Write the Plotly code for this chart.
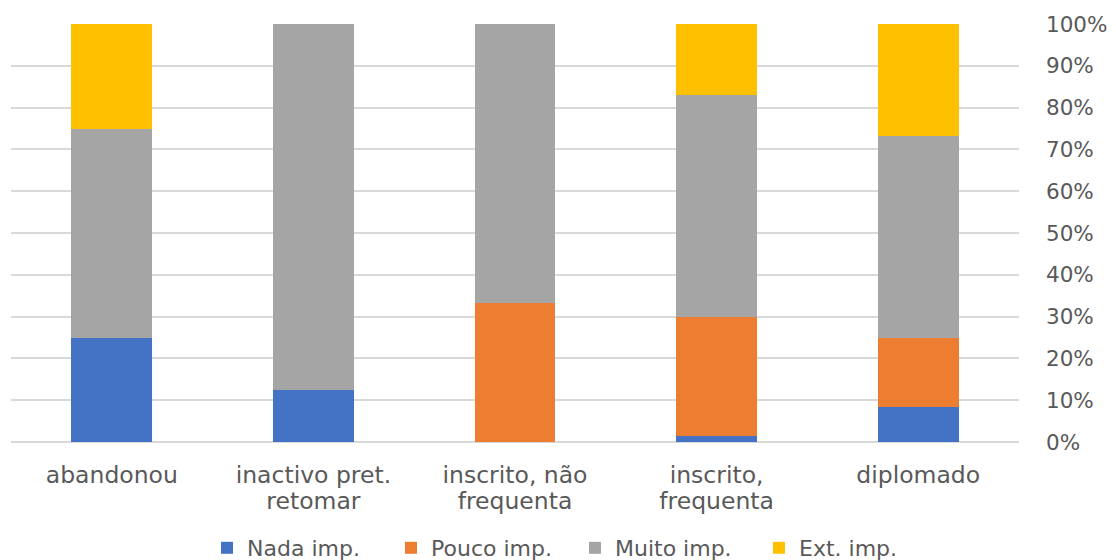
import plotly.graph_objects as go

categories = ["abandonou", "inactivo pret.\nretomar", "inscrito, não\nfrequenta",
              "inscrito,\nfrequenta", "diplomado"]
series_names = ["Nada imp.", "Pouco imp.", "Muito imp.", "Ext. imp."]
nada = [25.0, 12.5, 0.0, 1.4, 8.4]
pouco = [0.0, 0.0, 33.3, 28.6, 16.4]
muito = [50.0, 87.5, 66.7, 52.9, 48.5]
ext = [25.0, 0.0, 0.0, 17.1, 26.7]
colors = ["#4472C4", "#ED7D31", "#A5A5A5", "#FFC000"]
tick_vals = [0, 10, 20, 30, 40, 50, 60, 70, 80, 90, 100]
tick_text = [f"{v}%" for v in tick_vals]

pos = list(range(len(categories)))
line1 = [c.split("\n")[0] for c in categories]
line2 = [c.split("\n")[1] if "\n" in c else "" for c in categories]

fig = go.Figure()
for name, vals, c in zip(series_names, [nada, pouco, muito, ext], colors):
    fig.add_trace(go.Bar(x=pos, y=vals, name=name, marker=dict(color=c, line=dict(width=0))))
# invisible carrier trace so the second-line label axis is drawn
fig.add_trace(go.Scatter(x=pos, y=nada, xaxis="x2", yaxis="y", mode="none",
                         showlegend=False, hoverinfo="skip"))

font_family = "DejaVu Sans, sans-serif"
grey = "#595959"
xr = [-0.5, len(categories) - 0.5]
fig.update_layout(
    barmode="stack",
    bargap=0.6,
    width=1116, height=560,
    margin=dict(l=11, r=97, t=24, b=118),
    paper_bgcolor="white", plot_bgcolor="white",
    font=dict(family=font_family, size=21, color=grey),
    legend=dict(orientation="h", xref="container", yref="container",
                x=207 / 1116, xanchor="left", y=(560 - 548) / 560, yanchor="middle",
                font=dict(size=22, color=grey), traceorder="normal",
                entrywidth=139, entrywidthmode="pixels", tracegroupgap=0),
    showlegend=True,
    xaxis=dict(range=xr, tickmode="array", tickvals=pos, ticktext=line1,
               showgrid=False, showline=False, ticks="", automargin=False,
               ticklabelstandoff=16, tickfont=dict(size=23.5, color=grey)),
    xaxis2=dict(range=xr, tickmode="array", tickvals=pos, ticktext=line2,
                overlaying="x", side="bottom", anchor="y",
                showgrid=False, showline=False, zeroline=False, ticks="", automargin=False,
                ticklabelstandoff=42, tickfont=dict(size=23.5, color=grey)),
)
fig.update_yaxes(side="right", range=[0, 100], tickvals=tick_vals, ticktext=tick_text,
                 showgrid=True, gridcolor="#D9D9D9", gridwidth=1.5, automargin=False,
                 zeroline=True, zerolinecolor="#D9D9D9", zerolinewidth=1.5,
                 showline=False, ticks="", ticklabelstandoff=26,
                 tickfont=dict(size=21.5, color=grey))
fig.write_html("out.html")
